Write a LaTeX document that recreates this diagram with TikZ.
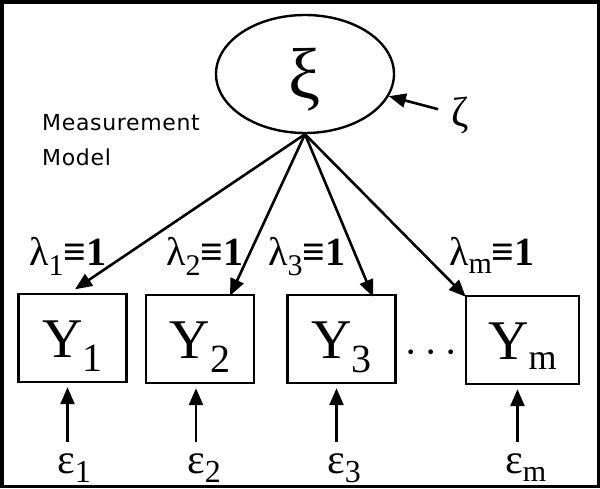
\documentclass[tikz,border=0pt]{standalone}
\usepackage{fontspec}
\setmainfont{Liberation Serif}
\newfontfamily\notefont[LetterSpace=3]{DejaVu Sans}
\usetikzlibrary{positioning,shapes,arrows.meta,calc}
\tikzset{
  arrow/.style={-{Triangle[length=17pt,width=14pt]}, line width=2.6pt},
  latent/.style={ellipse, draw, line width=2.4pt, minimum width=178pt, minimum height=118pt, inner sep=0pt},
  indicator/.style={draw, line width=2.4pt, minimum width=108pt, minimum height=88pt, inner sep=0pt,
    text height=38pt, text depth=0pt, font=\fontsize{56}{56}\selectfont},
  loading/.style={anchor=base west, inner sep=0pt, font=\fontsize{40}{40}\selectfont},
  errlabel/.style={anchor=base west, inner sep=0pt, text height=31pt, font=\fontsize{42}{42}\selectfont},
}
\newcommand{\lowsub}[3]{\raisebox{-#1}{\fontsize{#2}{#2}\selectfont #3}}
\newcommand{\fixone}{{\bfseries\fontsize{40}{40}\selectfont ≡1}}

\begin{document}
\begin{tikzpicture}[x=1pt,y=-1pt]
  \useasboundingbox (0,0) rectangle (600,488);

  % latent variable and its disturbance
  \node[latent, text height=64pt, text depth=16pt, font=\fontsize{72}{72}\selectfont] (xi) at (305,74) {ξ};
  \node[font=\fontsize{42}{42}\selectfont] (zeta) at (460,115) {ζ};
  \draw[arrow, shorten <=10pt] (zeta) -- (xi);

  \node[anchor=north west, align=left, inner sep=0pt, font=\notefont\fontsize{22}{35}\selectfont] (note) at (42,114) {Measurement\\Model};

  % indicators
  \node[indicator] (y1) at (72.5,338) {Y\lowsub{14pt}{40}{1}};
  \node[indicator] (y2) at (200,339) {Y\lowsub{14pt}{40}{2}};
  \node[indicator] (y3) at (341.5,339) {Y\lowsub{14pt}{40}{3}};
  \node[indicator, minimum width=113pt] (ym) at (522.5,340) {Y\lowsub{10pt}{36}{m}};
  \node[anchor=base, font=\fontsize{40}{40}\selectfont] (dots) at (431,365) {·\,·\,·};

  % loadings
  \draw[arrow] (xi.south) -- ($(y1.north)+(2.5,-3.5)$);
  \draw[arrow] (xi.south) -- ($(y2.north)+(30,2)$);
  \draw[arrow] (xi.south) -- ($(y3.north)+(31.5,3)$);
  \draw[arrow] (xi.south) -- ($(ym.north west)+(1,2)$);
  \node[loading] (l1) at (29,265) {λ\lowsub{10pt}{30}{1}\fixone};
  \node[loading] (l2) at (166,265) {λ\lowsub{10pt}{30}{2}\fixone};
  \node[loading] (l3) at (268,265) {λ\lowsub{10pt}{30}{3}\fixone};
  \node[loading] (lm) at (449,265) {λ\lowsub{8pt}{30}{m}\fixone};

  % measurement errors
  \coordinate (t1) at ($(y1.south)+(-5,4)$);
  \coordinate (t2) at ($(y2.south)+(-4,4)$);
  \coordinate (t3) at ($(y3.south)+(-5,4)$);
  \coordinate (tm) at ($(ym.south)+(-5,4)$);
  \node[errlabel] (e1) at (57,473) {ε\lowsub{9pt}{32}{1}};
  \node[errlabel] (e2) at (187,473) {ε\lowsub{9pt}{32}{2}};
  \node[errlabel] (e3) at (327,473) {ε\lowsub{9pt}{32}{3}};
  \node[errlabel] (em) at (505,473) {ε\lowsub{8pt}{30}{m}};
  \draw[arrow] (e1.north -| t1) -- (t1);
  \draw[arrow] (e2.north -| t2) -- (t2);
  \draw[arrow] (e3.north -| t3) -- (t3);
  \draw[arrow] (em.north -| tm) -- (tm);

  % frame
  \draw[line width=3.5pt] (1.75,1.75) rectangle (598.25,486.25);
\end{tikzpicture}
\end{document}
